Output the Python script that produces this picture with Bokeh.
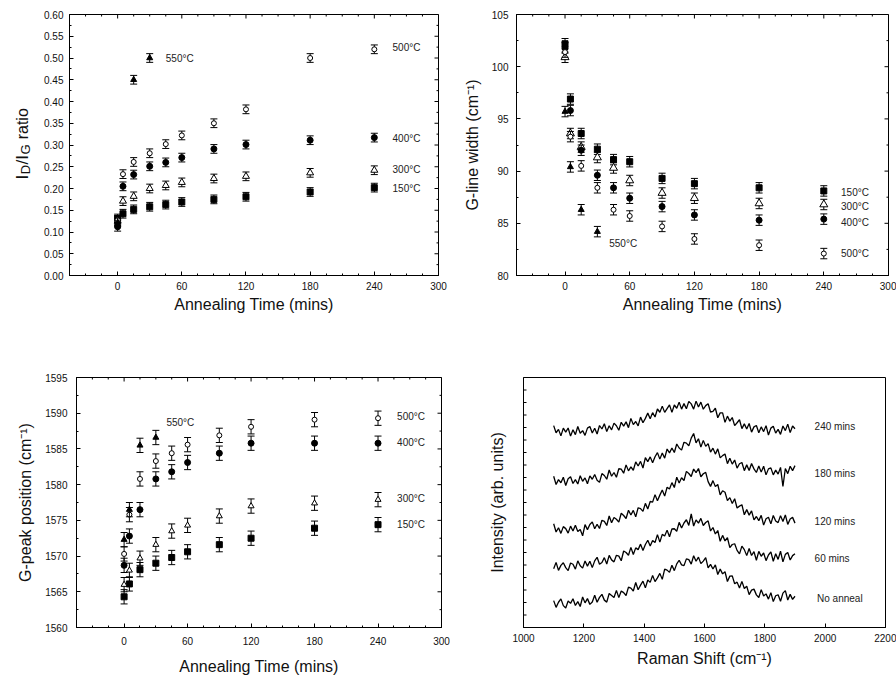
import math
from bokeh.plotting import figure
from bokeh.models import (Range1d, LinearAxis, SingleIntervalTicker, FixedTicker,
                          Label, PrintfTickFormatter)
from bokeh.layouts import column, row
from bokeh.embed import file_html
from bokeh.resources import INLINE

FONT = "Liberation Sans"

# ---------------- data ----------------
time = [0, 5, 15, 30, 45, 60, 90, 120, 180, 240]
time_550 = [0, 5, 15, 30]
time_550_ratio = [0, 15, 30]

ratio_150 = [0.131, 0.142, 0.152, 0.158, 0.163, 0.169, 0.175, 0.181, 0.192, 0.202]
ratio_300 = [0.125, 0.171, 0.182, 0.200, 0.207, 0.214, 0.223, 0.228, 0.236, 0.242]
ratio_400 = [0.112, 0.205, 0.232, 0.251, 0.260, 0.271, 0.291, 0.301, 0.311, 0.317]
ratio_500 = [0.128, 0.233, 0.261, 0.281, 0.302, 0.322, 0.350, 0.382, 0.500, 0.520]
ratio_550 = [0.122, 0.450, 0.500]
ratio_err = 0.010

width_150 = [102.2, 96.9, 93.6, 92.1, 91.1, 90.9, 89.3, 88.8, 88.4, 88.1]
width_300 = [100.9, 93.6, 92.3, 91.3, 90.3, 89.1, 87.9, 87.4, 86.9, 86.8]
width_400 = [101.8, 95.8, 92.0, 89.6, 88.4, 87.4, 86.6, 85.8, 85.3, 85.4]
width_500 = [101.4, 93.3, 90.5, 88.4, 86.3, 85.7, 84.7, 83.5, 82.9, 82.1]
width_550 = [95.7, 90.4, 86.3, 84.2]
width_err = 0.5

peak_150 = [1564.3, 1566.1, 1568.1, 1569.0, 1569.8, 1570.6, 1571.6, 1572.5, 1573.9, 1574.4]
peak_300 = [1566.0, 1568.0, 1569.7, 1571.6, 1573.5, 1574.3, 1575.6, 1577.0, 1577.4, 1577.9]
peak_400 = [1568.7, 1572.8, 1576.5, 1580.8, 1581.8, 1583.1, 1584.4, 1585.8, 1585.8, 1585.8]
peak_500 = [1570.3, 1575.8, 1580.8, 1583.3, 1584.4, 1585.6, 1586.9, 1588.1, 1589.1, 1589.3]
peak_550 = [1572.3, 1576.5, 1585.5, 1586.6]
peak_err = 1.0

raman_shift = list(range(1100, 1901, 8))
spec_none = [2.15, 1.61, 2.02, 2.29, 1.75, 1.56, 2.12, 1.93, 2.30, 1.76,
             2.07, 1.68, 2.44, 1.97, 2.31, 1.85, 2.04, 2.58, 2.02, 2.41,
             2.65, 2.19, 2.03, 2.72, 2.56, 2.40, 2.97, 2.39, 2.92, 2.79,
             2.56, 3.23, 3.15, 2.92, 3.60, 3.02, 3.39, 3.71, 3.17, 3.80,
             3.61, 4.17, 3.67, 3.97, 4.33, 3.85, 4.67, 4.59, 4.41, 4.98,
             4.55, 5.09, 5.38, 5.01, 4.95, 5.49, 5.43, 5.07, 5.74, 5.30,
             5.63, 5.11, 5.31, 5.59, 4.77, 5.05, 4.68, 5.01, 4.24, 4.67,
             4.29, 4.46, 3.68, 4.11, 4.13, 3.50, 3.63, 3.16, 3.69, 3.12,
             3.30, 2.63, 2.99, 3.07, 2.61, 2.40, 3.03, 2.52, 2.69, 2.27,
             2.79, 2.07, 2.54, 2.62, 2.10, 2.75, 2.95, 2.20, 2.65, 2.25,
             2.50]
spec_60 = [4.70, 5.21, 4.57, 4.97, 5.18, 4.79, 4.55, 5.16, 5.06, 4.67,
           5.33, 4.94, 4.75, 5.32, 4.91, 5.30, 4.79, 5.33, 5.62, 5.06,
           5.20, 5.59, 5.08, 5.77, 5.41, 5.25, 5.78, 5.71, 5.34, 6.12,
           6.00, 5.78, 6.41, 5.84, 6.37, 6.23, 6.67, 6.16, 6.64, 6.98,
           6.52, 6.96, 6.80, 7.43, 6.83, 7.45, 7.32, 7.79, 7.26, 7.88,
           7.90, 7.70, 8.41, 7.96, 8.36, 8.62, 8.17, 9.08, 8.12, 8.61,
           8.35, 8.73, 8.16, 8.40, 8.53, 7.72, 8.00, 7.48, 7.76, 6.90,
           7.37, 6.93, 7.18, 6.39, 6.64, 6.70, 6.17, 5.89, 6.51, 6.23,
           5.75, 6.32, 5.76, 6.07, 5.38, 6.09, 5.70, 5.96, 5.35, 5.80,
           6.05, 5.30, 5.90, 5.45, 6.10, 5.25, 5.85, 6.00, 5.40, 5.75,
           5.90]
spec_120 = [8.30, 7.64, 7.98, 7.53, 8.07, 7.91, 7.55, 8.11, 7.72, 8.18,
            7.68, 7.84, 7.34, 8.23, 7.83, 8.24, 8.45, 7.90, 8.26, 7.92,
            8.58, 8.49, 8.16, 8.92, 8.38, 8.80, 8.66, 8.43, 9.14, 8.96,
            8.72, 9.38, 9.00, 9.37, 8.85, 9.58, 9.51, 9.29, 9.93, 9.48,
            10.08, 10.03, 10.63, 10.14, 10.59, 11.00, 10.51, 11.22, 11.08, 11.59,
            11.20, 12.03, 11.56, 11.98, 11.76, 12.49, 12.32, 12.08, 12.68, 12.39,
            12.72, 12.06, 12.30, 12.41, 11.67, 11.29, 11.75, 11.27, 11.44, 10.61,
            10.94, 10.82, 10.15, 10.39, 9.92, 10.30, 9.56, 9.71, 9.82, 9.02,
            9.43, 8.99, 9.33, 8.61, 8.88, 8.55, 8.97, 8.19, 8.70, 8.82,
            8.29, 8.96, 8.52, 8.39, 8.95, 8.48, 9.01, 8.25, 8.68, 8.81,
            8.35]
spec_180 = [12.10, 11.44, 11.83, 11.58, 12.02, 11.36, 11.90, 12.06, 11.52, 11.83,
            11.48, 12.14, 11.70, 11.97, 11.50, 12.13, 11.86, 12.24, 11.78, 11.61,
            12.31, 12.16, 11.86, 12.60, 12.10, 12.40, 12.02, 12.70, 12.67, 12.34,
            13.01, 12.53, 12.85, 12.58, 13.25, 12.92, 13.29, 12.76, 13.59, 13.27,
            13.65, 13.18, 13.66, 13.99, 13.47, 13.96, 13.55, 14.28, 13.97, 14.36,
            14.00, 14.68, 14.36, 14.19, 14.82, 14.75, 14.53, 15.15, 15.52, 14.77,
            15.10, 14.43, 14.97, 14.49, 14.71, 14.03, 14.35, 13.87, 14.29, 13.57,
            13.75, 13.88, 13.11, 13.54, 13.07, 13.40, 12.75, 13.10, 13.20, 12.55,
            13.01, 12.56, 13.12, 12.69, 12.40, 12.92, 12.43, 12.90, 12.21, 12.69,
            12.77, 12.21, 12.59, 12.27, 12.81, 11.28, 12.72, 12.31, 12.90, 12.55,
            12.95]
spec_240 = [16.15, 15.58, 15.85, 15.33, 15.95, 15.63, 15.96, 15.31, 15.82, 15.43,
            16.08, 15.54, 15.75, 15.37, 15.95, 16.08, 15.56, 15.94, 15.48, 16.16,
            15.88, 16.30, 15.67, 16.14, 15.81, 16.35, 16.14, 15.78, 16.42, 16.11,
            16.45, 15.99, 16.73, 16.23, 16.48, 16.13, 16.83, 16.38, 16.73, 17.15,
            16.70, 17.19, 16.84, 17.48, 17.22, 17.71, 17.21, 17.51, 17.81, 17.21,
            17.80, 17.54, 18.03, 17.47, 17.91, 17.50, 18.09, 17.89, 17.47, 18.11,
            17.64, 18.03, 17.46, 17.75, 17.90, 17.24, 17.29, 17.54, 16.78, 17.17,
            17.17, 16.41, 16.91, 16.51, 16.80, 16.15, 16.38, 16.62, 15.91, 16.29,
            15.88, 16.32, 15.63, 16.05, 16.16, 15.58, 16.05, 15.67, 16.15, 15.40,
            15.95, 16.10, 15.55, 15.85, 15.45, 16.12, 15.75, 16.27, 15.59, 16.12,
            15.90]

spectra = [spec_none, spec_60, spec_120, spec_180, spec_240]
spectra_labels = ["No anneal", "60 mins", "120 mins", "180 mins", "240 mins"]

temps = ["150\u00b0C", "300\u00b0C", "400\u00b0C", "500\u00b0C", "550\u00b0C"]

# ---------------- helpers ----------------
def base_fig(w, h, left, right, top, bottom, xr, yr):
    p = figure(width=w, height=h, output_backend="svg", toolbar_location=None,
               x_range=Range1d(*xr), y_range=Range1d(*yr),
               min_border_left=left, min_border_right=right,
               min_border_top=top, min_border_bottom=bottom,
               x_axis_type=None, y_axis_type=None)
    p.background_fill_color = "white"
    p.border_fill_color = "white"
    p.outline_line_color = "black"
    p.outline_line_width = 1
    p.xgrid.visible = False
    p.ygrid.visible = False
    return p


def add_axis(p, side, ticker, fmt=None, title=None,
             label_standoff=5, title_standoff=4, title_size="16px"):
    ax = LinearAxis(ticker=ticker)
    ax.major_tick_in = 4
    ax.major_tick_out = 0
    ax.minor_tick_in = 2
    ax.minor_tick_out = 0
    ax.axis_line_color = "black"
    ax.major_tick_line_color = "black"
    ax.minor_tick_line_color = "black"
    ax.major_label_text_font = FONT
    ax.major_label_text_font_size = "10px"
    ax.major_label_text_color = "#111111"
    ax.major_label_standoff = label_standoff
    if fmt:
        ax.formatter = PrintfTickFormatter(format=fmt)
    if title:
        ax.axis_label = title
        ax.axis_label_text_font = FONT
        ax.axis_label_text_font_size = title_size
        ax.axis_label_text_font_style = "normal"
        ax.axis_label_text_color = "#111111"
        ax.axis_label_standoff = title_standoff
    p.add_layout(ax, side)
    return ax


def edge_ticks(p, side, major, minor, xr, yr):
    """Inward tick marks on the frame edges (half of each dash is clipped)."""
    if side == "top":
        p.scatter(x=major, y=[yr[1]] * len(major), marker="dash", angle=math.pi / 2,
                  size=8, line_color="black", line_width=1)
        p.scatter(x=minor, y=[yr[1]] * len(minor), marker="dash", angle=math.pi / 2,
                  size=4, line_color="black", line_width=1)
    elif side == "right":
        p.scatter(x=[xr[1]] * len(major), y=major, marker="dash",
                  size=8, line_color="black", line_width=1)
        p.scatter(x=[xr[1]] * len(minor), y=minor, marker="dash",
                  size=4, line_color="black", line_width=1)
    elif side == "left":
        p.scatter(x=[xr[0]] * len(major), y=major, marker="dash",
                  size=6, line_color="black", line_width=1)


def series(p, x, y, err, marker, size, filled, cap=7):
    lo = [v - err for v in y]
    hi = [v + err for v in y]
    p.segment(x0=x, y0=lo, x1=x, y1=hi, line_color="black", line_width=1)
    p.scatter(x=x, y=lo, marker="dash", size=cap, line_color="black", line_width=1)
    p.scatter(x=x, y=hi, marker="dash", size=cap, line_color="black", line_width=1)
    p.scatter(x=x, y=y, marker=marker, size=size, line_color="black", line_width=1,
              fill_color="black" if filled else "white")


def note(p, x, y, text, size="10px"):
    p.add_layout(Label(x=x, y=y, text=text, text_font=FONT, text_font_size=size,
                       text_color="#222222", text_align="left", text_baseline="middle"))


TX = (-45, 300)
time_major = list(range(0, 301, 60))
time_minor = [t for t in range(-45, 301, 15) if t % 60 != 0]

# ---------------- panel 0 : rotated y title of panel 1 (with subscripts) ----------------
p0 = figure(frame_width=40, frame_height=330, output_backend="svg", toolbar_location=None,
            x_range=Range1d(0, 40), y_range=Range1d(0, 330),
            min_border_left=0, min_border_right=0, min_border_top=0, min_border_bottom=0,
            x_axis_type=None, y_axis_type=None)
p0.outline_line_color = None
p0.xgrid.visible = False
p0.ygrid.visible = False
p0.border_fill_color = "white"
p0.background_fill_color = "white"
WID = {"I": .278, "D": .722, "/": .278, "G": .778, " ": .278, "r": .333,
       "a": .556, "t": .278, "i": .222, "o": .556}
# (text, font px, baseline shift px, gap before px)
pieces = [("I", 17, 0, 0), ("D", 13, 3, 0.5), ("/", 17, 0, 0.5), ("I", 17, 0, 0),
          ("G", 13, 3, 0.5), ("ratio", 16, 0, 5)]
off = 0.0
for t, s, dx, gap in pieces:
    off += gap
    p0.add_layout(Label(x=0, y=165, x_offset=22 + dx, y_offset=off, text=t,
                        angle=math.pi / 2, text_font=FONT,
                        text_font_size=f"{s}px", text_color="#111111",
                        text_align="left", text_baseline="alphabetic"))
    off += sum(WID[c] for c in t) * s

# ---------------- panel 1 : ID/IG ----------------
Y1 = (0, 0.6)
p1 = base_fig(410, 330, 29, 12, 14, 55, TX, Y1)
add_axis(p1, "below", SingleIntervalTicker(interval=60, num_minor_ticks=4),
         title="Annealing Time (mins)", label_standoff=6, title_standoff=3)
y1_major = [round(0.05 * i, 2) for i in range(13)]
y1_minor = [round(0.025 + 0.05 * i, 3) for i in range(12)]
add_axis(p1, "left", FixedTicker(ticks=y1_major, minor_ticks=y1_minor), fmt="%.2f", label_standoff=6)
edge_ticks(p1, "top", time_major, time_minor, TX, Y1)
edge_ticks(p1, "right", y1_major, y1_minor, TX, Y1)

series(p1, time, ratio_150, ratio_err, "square", 6, True)
series(p1, time, ratio_300, ratio_err, "triangle", 7, False)
series(p1, time, ratio_400, ratio_err, "circle", 6, True)
series(p1, time, ratio_500, ratio_err, "circle", 5, False)
series(p1, time_550_ratio, ratio_550, ratio_err, "triangle", 6, True)

note(p1, 45, 0.500, temps[4])
note(p1, 257, 0.523, temps[3])
note(p1, 257, 0.316, temps[2])
note(p1, 257, 0.243, temps[1])
note(p1, 257, 0.199, temps[0])

# ---------------- panel 2 : G-line width ----------------
Y2 = (80, 105)
p2 = base_fig(446, 330, 66, 8, 11, 54, TX, Y2)
add_axis(p2, "below", SingleIntervalTicker(interval=60, num_minor_ticks=4),
         title="Annealing Time (mins)", label_standoff=6, title_standoff=3)
add_axis(p2, "left", SingleIntervalTicker(interval=5, num_minor_ticks=2),
         title="G-line width (cm\u207b\u00b9)", label_standoff=8, title_standoff=8)
edge_ticks(p2, "top", time_major, time_minor, TX, Y2)
edge_ticks(p2, "right", list(range(80, 106, 5)), [82.5, 87.5, 92.5, 97.5, 102.5], TX, Y2)

series(p2, time, width_150, width_err, "square", 6, True)
series(p2, time, width_300, width_err, "triangle", 8, False)
series(p2, time, width_400, width_err, "circle", 6, True)
series(p2, time, width_500, width_err, "circle", 5, False)
series(p2, time_550, width_550, width_err, "triangle", 6, True)

note(p2, 256, 87.95, temps[0])
note(p2, 256, 86.6, temps[1])
note(p2, 256, 85.05, temps[2])
note(p2, 256, 82.07, temps[3])
note(p2, 41, 83.1, temps[4])

# ---------------- panel 3 : G-peak position ----------------
Y3 = (1560, 1595)
p3 = base_fig(450, 349, 76, 9, 47, 44, TX, Y3)
add_axis(p3, "below", SingleIntervalTicker(interval=60, num_minor_ticks=4),
         title="Annealing Time (mins)", label_standoff=9, title_standoff=10)
add_axis(p3, "left", SingleIntervalTicker(interval=5, num_minor_ticks=2),
         title="G-peak position (cm\u207b\u00b9)", label_standoff=9, title_standoff=8)
edge_ticks(p3, "top", time_major, time_minor, TX, Y3)
edge_ticks(p3, "right", list(range(1560, 1596, 5)),
           [1562.5 + 5 * i for i in range(7)], TX, Y3)

series(p3, time, peak_150, peak_err, "square", 6, True)
series(p3, time, peak_300, peak_err, "triangle", 6, False)
series(p3, time, peak_400, peak_err, "circle", 6, True)
series(p3, time, peak_500, peak_err, "circle", 5, False)
series(p3, time_550, peak_550, peak_err, "triangle", 6, True)

note(p3, 40, 1588.75, temps[4])
note(p3, 258, 1589.5, temps[3])
note(p3, 258, 1585.9, temps[2])
note(p3, 258, 1578.0, temps[1])
note(p3, 258, 1574.4, temps[0])

# ---------------- panel 4 : Raman spectra ----------------
X4 = (1000, 2200)
Y4 = (0, 20)
p4 = base_fig(446, 349, 73, 11, 41, 52, X4, Y4)
add_axis(p4, "below", SingleIntervalTicker(interval=200, num_minor_ticks=0),
         title="Raman Shift (cm\u207b\u00b9)", label_standoff=6, title_standoff=5)
add_axis(p4, "left", FixedTicker(ticks=[]), title="Intensity (arb. units)", title_standoff=18)
edge_ticks(p4, "left", list(range(1, 20)), [], X4, Y4)
for spec in spectra:
    p4.line(raman_shift, spec, line_color="black", line_width=1.3)
label_y = [2.29, 5.54, 8.45, 12.35, 16.07]
label_x = [1973, 1965, 1965, 1965, 1965]
for lx, ly, t in zip(label_x, label_y, spectra_labels):
    note(p4, lx, ly, t)

layout = column(row(p0, p1, p2, spacing=0), row(p3, p4, spacing=0), spacing=0)
open("out.html", "w").write(file_html(layout, INLINE))
